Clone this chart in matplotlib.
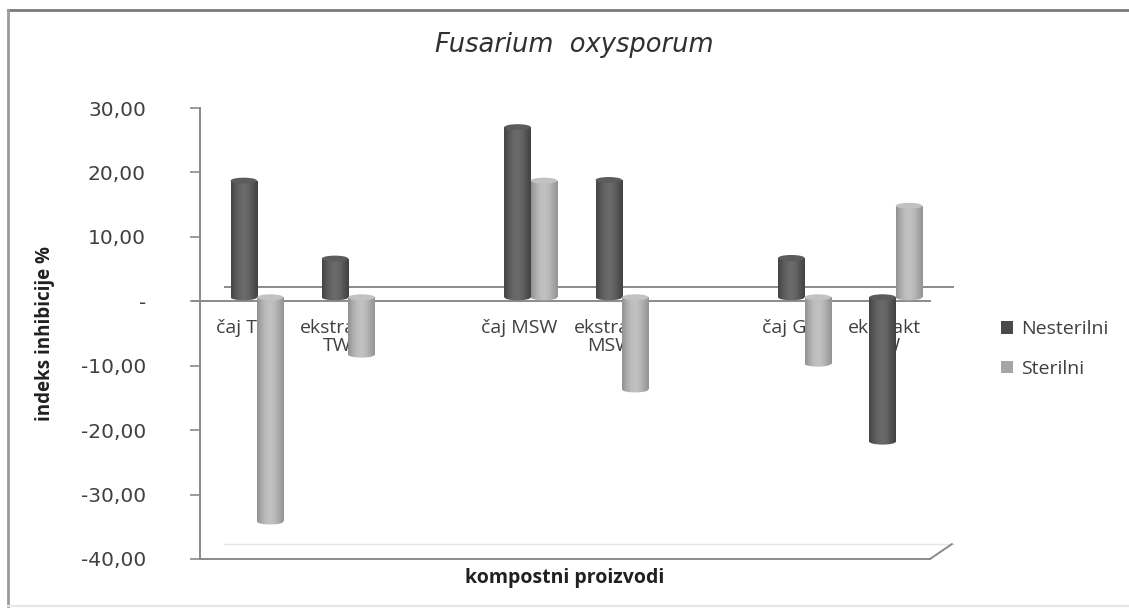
import numpy as np
import matplotlib.pyplot as plt
from matplotlib.patches import Rectangle, Ellipse, Patch
from matplotlib.lines import Line2D
from matplotlib.transforms import ScaledTranslation

# slots 2 and 5 are empty gaps between the compost groups
categories = ["čaj TW", "ekstrakt\nTW", "", "čaj MSW", "ekstrakt\nMSW", "", "čaj GW", "ekstrakt\nGW"]
slots = [0, 1, 3, 4, 6, 7]
nesterilni = [18.1, 6.0, 26.4, 18.2, 6.1, -22.4]
sterilni = [-34.8, -8.9, 18.1, -14.3, -10.3, 14.2]
yticks = [30, 20, 10, 0, -10, -20, -30, -40]
ytick_labels = ["30,00", "20,00", "10,00", "-", "-10,00", "-20,00", "-30,00", "-40,00"]

W, H, DPI = 1129, 612, 100
fig = plt.figure(figsize=(W / DPI, H / DPI), dpi=DPI)
ax = fig.add_axes([200 / W, 1 - 559 / H, 730 / W, 451 / H])
ax.set_xlim(-0.5, 7.5)
ax.set_ylim(-40, 30)

px_per_unit = 451 / 70.0
depth = ax.transData + ScaledTranslation(0, 4 / DPI, fig.dpi_scale_trans)
back = ax.transData + ScaledTranslation(25 / DPI, 14 / DPI, fig.dpi_scale_trans)

grey = "#8a8a8a"
# front and back zero lines (3D floor at zero)
ax.plot([-0.58, 7.5], [0, 0], color=grey, lw=1.4, zorder=1, clip_on=False)
ax.plot([-0.5, 7.48], [0, 0], color=grey, lw=1.4, zorder=1, transform=back, clip_on=False)
# back edge of the bottom floor
ax.plot([-0.5, 7.5], [-40, -40], color="#e6e6e6", lw=1.0, zorder=1,
        transform=ax.transData + ScaledTranslation(24 / DPI, 15 / DPI, fig.dpi_scale_trans), clip_on=False)
# slanted corner of the floor
ax.annotate("", xy=(7.5, -40), xycoords="data",
            xytext=(952 / W, 1 - 544 / H), textcoords="figure fraction",
            arrowprops=dict(arrowstyle="-", color=grey, lw=1.4, shrinkA=0, shrinkB=0))

for s in ["top", "right"]:
    ax.spines[s].set_visible(False)
for s in ["left", "bottom"]:
    ax.spines[s].set_color(grey)
    ax.spines[s].set_linewidth(1.4)

ax.set_yticks(yticks)
ax.set_yticklabels(ytick_labels, fontsize=14.5, color="#404040", family="DejaVu Sans")
ax.tick_params(axis="y", length=7, width=1.2, color=grey, pad=32)
ax.set_xticks([])

# category labels sit just under the zero line, behind the bars
for i, name in enumerate(categories):
    if name:
        ax.text(i, -2.7, name, ha="center", va="top", fontsize=14, color="#404040",
                family="Open Sans", linespacing=1.0, zorder=2)


def cylinder(x0, w, v, dark):
    if dark:
        shades = [0.27, 0.34, 0.40, 0.42, 0.39, 0.32, 0.26]
        cap = "#5c5c5c"
    else:
        shades = [0.57, 0.67, 0.74, 0.76, 0.73, 0.65, 0.58]
        cap = "#c2c2c2"
    grad = np.interp(np.linspace(0, 1, 64), np.linspace(0, 1, len(shades)), shades)
    grad = grad[np.newaxis, :]
    top, bot = max(v, 0), min(v, 0)
    eh = 6 / px_per_unit
    body = Rectangle((x0, bot), w, top - bot, transform=depth, facecolor="none", edgecolor="none")
    foot = Ellipse((x0 + w / 2, bot), w, eh, transform=depth, facecolor="none", edgecolor="none")
    for clip in (body, foot):
        ax.add_patch(clip)
        im = ax.imshow(grad, cmap="gray", vmin=0, vmax=1, extent=[x0, x0 + w, bot - eh, top],
                       aspect="auto", transform=depth, zorder=3, interpolation="bilinear")
        im.set_clip_path(clip)
    ax.add_patch(Ellipse((x0 + w / 2, top), w, eh, transform=depth, facecolor=cap,
                         edgecolor="none", zorder=4))


bw = 0.29
for s, n, st in zip(slots, nesterilni, sterilni):
    cylinder(s - 0.165, bw, n, True)
    cylinder(s + 0.125, bw, st, False)

ax.set_xlim(-0.5, 7.5)
ax.set_ylim(-40, 30)

ax.set_ylabel("indeks inhibicije %", fontsize=13.5, fontweight="bold", family="Open Sans",
              color="#202020")
ax.yaxis.set_label_coords(-145 / 730, 0.5)
fig.text(565 / W, 1 - 578 / H, "kompostni proizvodi", ha="center", va="center",
         fontsize=14, fontweight="bold", family="Open Sans", color="#202020")
fig.text(574 / W, 1 - 45 / H, "Fusarium  oxysporum", ha="center", va="center",
         fontsize=18.5, style="italic", family="DejaVu Sans", color="#303030")

handles = [Patch(facecolor="#4a4a4a"), Patch(facecolor="#a6a6a6")]
fig.legend(handles, ["Nesterilni", "Sterilni"], loc="upper left",
           bbox_to_anchor=(984 / W, 1 - 303 / H), frameon=False, handlelength=0.6,
           handleheight=0.6, handletextpad=0.4, labelspacing=1.1,
           prop=dict(family="Open Sans", size=14), labelcolor="#404040")

# outer chart border
fig.add_artist(Line2D([8 / W, 1], [1 - 10 / H, 1 - 10 / H], transform=fig.transFigure,
                      color="#7a7a7a", lw=2))
fig.add_artist(Line2D([8 / W, 8 / W], [1 - 10 / H, 1 - 606 / H], transform=fig.transFigure,
                      color="#9a9a9a", lw=2))
fig.add_artist(Line2D([8 / W, 1], [1 - 606 / H, 1 - 606 / H], transform=fig.transFigure,
                      color="#e6e6e6", lw=1.5))

fig.savefig("out.png", dpi=DPI)
